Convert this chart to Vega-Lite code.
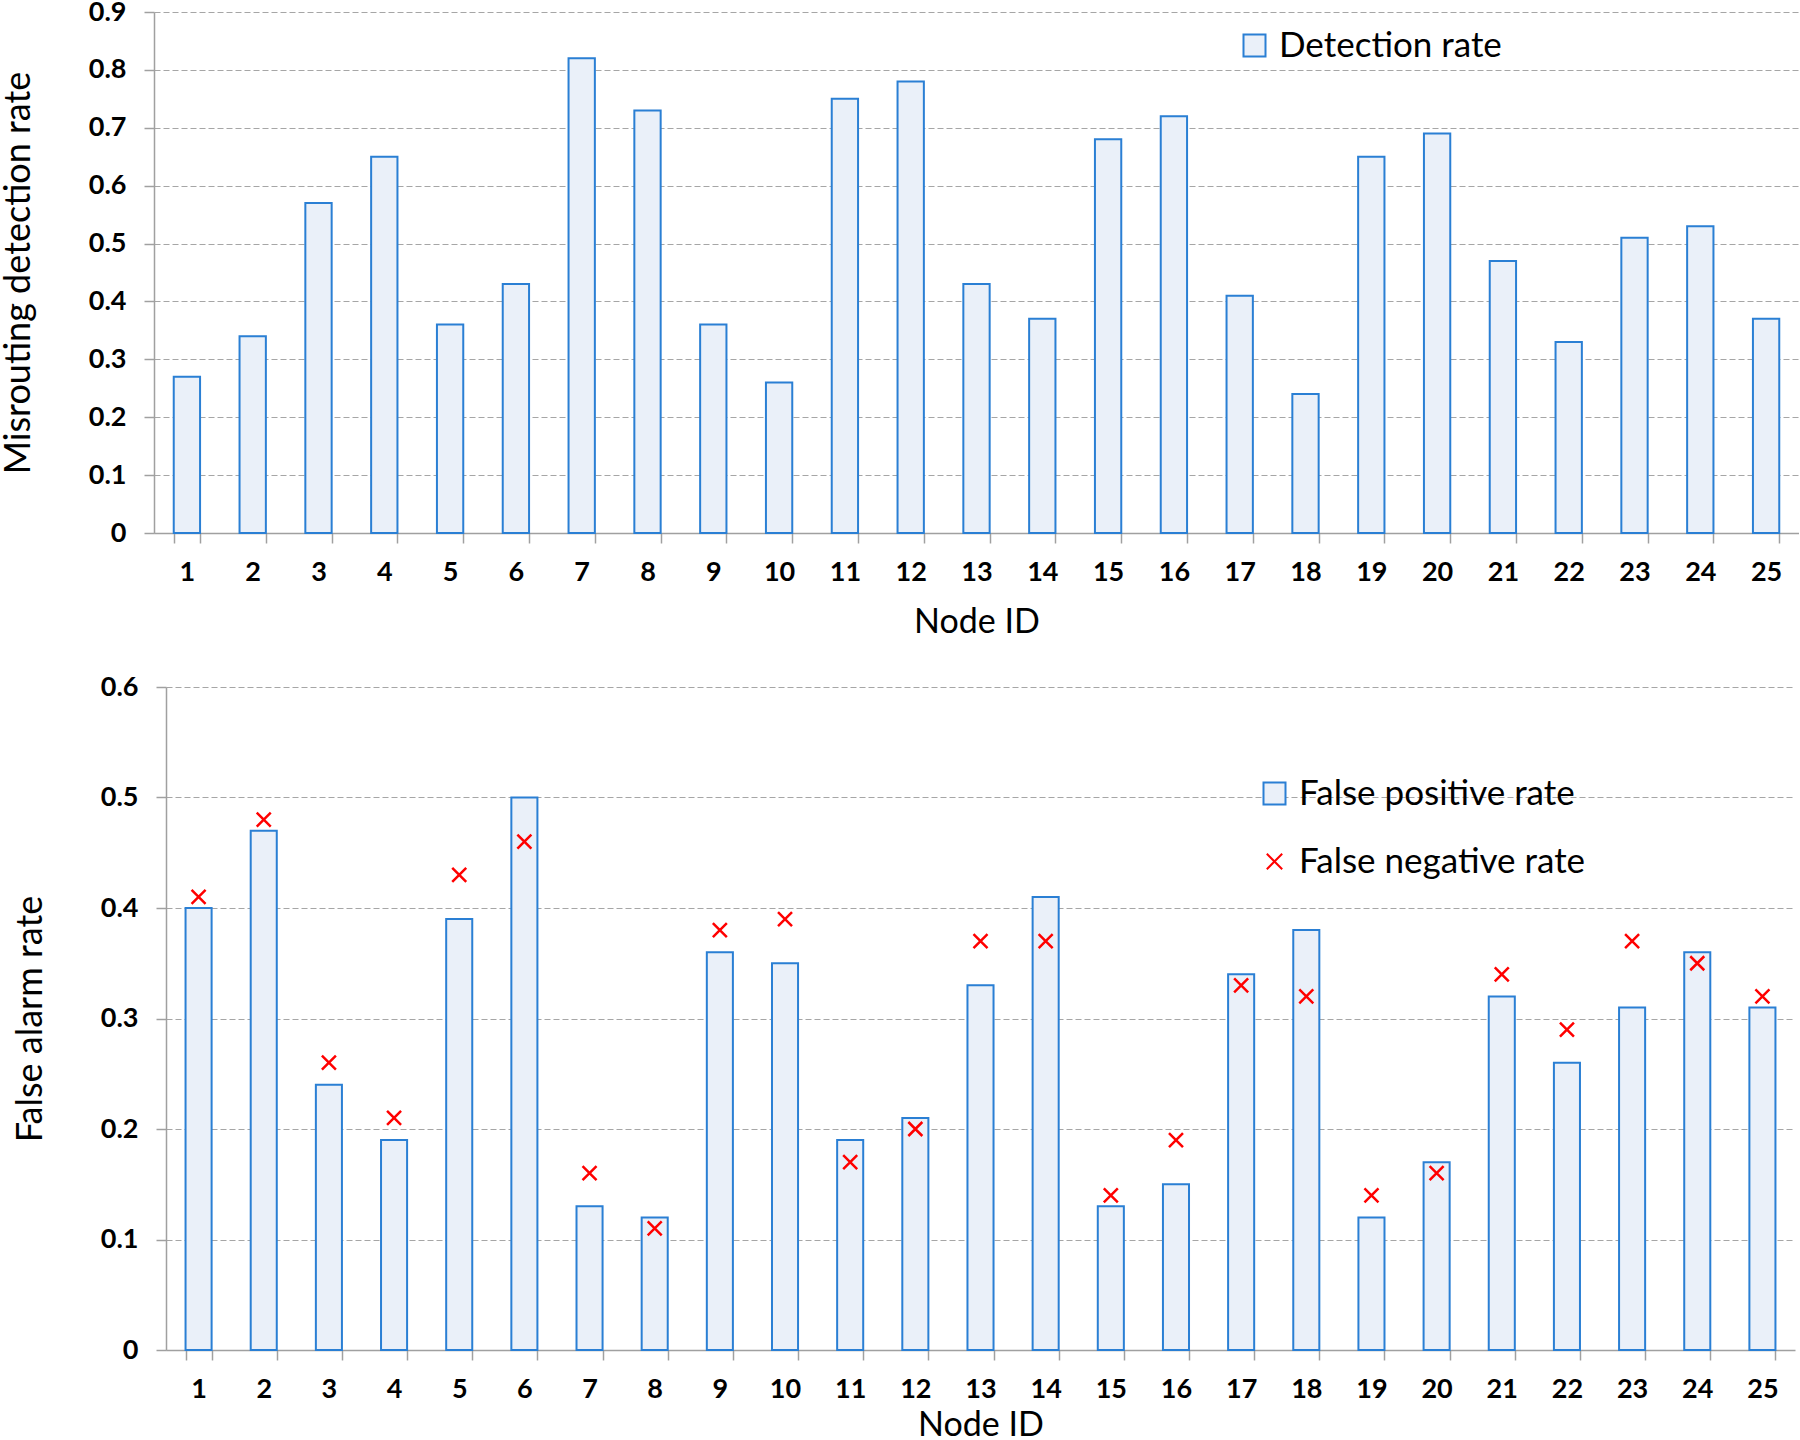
{
  "$schema": "https://vega.github.io/schema/vega-lite/v6.json",
  "padding": {"top": -2, "left": 0, "right": 0, "bottom": 0},
  "background": "white",
  "config": {
    "font": "Lato",
    "view": {"stroke": null},
    "axis": {
      "labelFont": "Lato", "titleFont": "Lato",
      "labelColor": "#000000", "titleColor": "#000000",
      "labelFontWeight": "bold", "titleFontWeight": "normal",
      "labelFontSize": 27,
      "domainColor": "#a0a0a0", "tickColor": "#a0a0a0",
      "domainWidth": 1.5, "tickWidth": 1.5, "tickSize": 10,
      "gridColor": "#a6a6a6", "gridDash": [6, 3], "gridWidth": 1.2
    },
    "legend": {
      "labelFont": "Lato", "labelFontSize": 35, "labelColor": "#000000",
      "labelFontWeight": "normal", "labelLimit": 600
    }
  },
  "resolve": {
    "scale": {"stroke": "independent", "shape": "independent"},
    "legend": {"stroke": "independent", "shape": "independent"}
  },
  "spacing": 34,
  "vconcat": [
    {
      "width": 1645,
      "height": 521,
      "data": {"values": [
        {"node": 1, "Detection rate": 0.27}, {"node": 2, "Detection rate": 0.34},
        {"node": 3, "Detection rate": 0.57}, {"node": 4, "Detection rate": 0.65},
        {"node": 5, "Detection rate": 0.36}, {"node": 6, "Detection rate": 0.43},
        {"node": 7, "Detection rate": 0.82}, {"node": 8, "Detection rate": 0.73},
        {"node": 9, "Detection rate": 0.36}, {"node": 10, "Detection rate": 0.26},
        {"node": 11, "Detection rate": 0.75}, {"node": 12, "Detection rate": 0.78},
        {"node": 13, "Detection rate": 0.43}, {"node": 14, "Detection rate": 0.37},
        {"node": 15, "Detection rate": 0.68}, {"node": 16, "Detection rate": 0.72},
        {"node": 17, "Detection rate": 0.41}, {"node": 18, "Detection rate": 0.24},
        {"node": 19, "Detection rate": 0.65}, {"node": 20, "Detection rate": 0.69},
        {"node": 21, "Detection rate": 0.47}, {"node": 22, "Detection rate": 0.33},
        {"node": 23, "Detection rate": 0.51}, {"node": 24, "Detection rate": 0.53},
        {"node": 25, "Detection rate": 0.37}
      ]},
      "transform": [{"fold": ["Detection rate"], "as": ["series", "value"]}],
      "mark": {"type": "bar", "fill": "#eaf0f9", "strokeWidth": 2},
      "encoding": {
        "x": {
          "field": "node", "type": "ordinal",
          "scale": {"paddingInner": 0.6, "paddingOuter": 0.3},
          "axis": {"title": "Node ID", "titleFontSize": 34, "labelAngle": 0, "tickBand": "extent", "labelPadding": 16, "titlePadding": 20}
        },
        "y": {
          "field": "value", "type": "quantitative",
          "scale": {"domain": [0, 0.9]},
          "axis": {
            "title": "Misrouting detection rate", "titleFontSize": 36,
            "values": [0, 0.1, 0.2, 0.3, 0.4, 0.5, 0.6, 0.7, 0.8, 0.9],
            "format": ".1~f", "grid": true, "labelPadding": 18, "titlePadding": 51
          }
        },
        "stroke": {
          "field": "series", "type": "nominal",
          "scale": {"domain": ["Detection rate"], "range": ["#2a7fd4"]},
          "legend": {
            "title": null, "orient": "none", "legendX": 1083, "legendY": 16,
            "symbolType": "square", "symbolSize": 484, "symbolStrokeWidth": 2,
            "symbolFillColor": "#eaf0f9", "labelOffset": 7
          }
        }
      }
    },
    {
      "width": 1641,
      "height": 663,
      "data": {"values": [
        {"node": 1, "False positive rate": 0.40, "False negative rate": 0.41},
        {"node": 2, "False positive rate": 0.47, "False negative rate": 0.48},
        {"node": 3, "False positive rate": 0.24, "False negative rate": 0.26},
        {"node": 4, "False positive rate": 0.19, "False negative rate": 0.21},
        {"node": 5, "False positive rate": 0.39, "False negative rate": 0.43},
        {"node": 6, "False positive rate": 0.50, "False negative rate": 0.46},
        {"node": 7, "False positive rate": 0.13, "False negative rate": 0.16},
        {"node": 8, "False positive rate": 0.12, "False negative rate": 0.11},
        {"node": 9, "False positive rate": 0.36, "False negative rate": 0.38},
        {"node": 10, "False positive rate": 0.35, "False negative rate": 0.39},
        {"node": 11, "False positive rate": 0.19, "False negative rate": 0.17},
        {"node": 12, "False positive rate": 0.21, "False negative rate": 0.20},
        {"node": 13, "False positive rate": 0.33, "False negative rate": 0.37},
        {"node": 14, "False positive rate": 0.41, "False negative rate": 0.37},
        {"node": 15, "False positive rate": 0.13, "False negative rate": 0.14},
        {"node": 16, "False positive rate": 0.15, "False negative rate": 0.19},
        {"node": 17, "False positive rate": 0.34, "False negative rate": 0.33},
        {"node": 18, "False positive rate": 0.38, "False negative rate": 0.32},
        {"node": 19, "False positive rate": 0.12, "False negative rate": 0.14},
        {"node": 20, "False positive rate": 0.17, "False negative rate": 0.16},
        {"node": 21, "False positive rate": 0.32, "False negative rate": 0.34},
        {"node": 22, "False positive rate": 0.26, "False negative rate": 0.29},
        {"node": 23, "False positive rate": 0.31, "False negative rate": 0.37},
        {"node": 24, "False positive rate": 0.36, "False negative rate": 0.35},
        {"node": 25, "False positive rate": 0.31, "False negative rate": 0.32}
      ]},
      "transform": [{"fold": ["False positive rate", "False negative rate"], "as": ["series", "value"]}],
      "encoding": {
        "x": {
          "field": "node", "type": "ordinal",
          "scale": {"paddingInner": 0.6, "paddingOuter": 0.3, "range": [12, 1641]},
          "axis": {"title": "Node ID", "titleFontSize": 34, "labelAngle": 0, "tickBand": "extent", "labelPadding": 16, "titlePadding": 6}
        },
        "y": {
          "field": "value", "type": "quantitative",
          "scale": {"domain": [0, 0.6]},
          "axis": {
            "title": "False alarm rate", "titleFontSize": 36, "offset": -12,
            "values": [0, 0.1, 0.2, 0.3, 0.4, 0.5, 0.6],
            "format": ".1~f", "grid": true, "labelPadding": 18, "titlePadding": 51
          }
        },
        "stroke": {
          "field": "series", "type": "nominal",
          "scale": {"domain": ["False positive rate", "False negative rate"], "range": ["#2a7fd4", "#ff0000"]},
          "legend": {
            "title": null, "orient": "none", "legendX": 1103, "legendY": 89,
            "symbolSize": 484, "symbolStrokeWidth": 2, "labelOffset": 7, "rowPadding": 32,
            "encode": {"symbols": {"update": {
              "fill": {"signal": "datum.value === 'False positive rate' ? '#eaf0f9' : 'transparent'"},
              "strokeWidth": {"signal": "datum.value === 'False positive rate' ? 2 : 2.5"}
            }}}
          }
        }
      },
      "layer": [
        {
          "transform": [{"filter": "datum.series === 'False positive rate'"}],
          "mark": {"type": "bar", "fill": "#eaf0f9", "strokeWidth": 2}
        },
        {
          "transform": [{"filter": "datum.series === 'False negative rate'"}],
          "mark": {"type": "point", "filled": false, "strokeWidth": 2.5, "size": 400, "opacity": 1},
          "encoding": {
            "shape": {
              "field": "series", "type": "nominal",
              "scale": {"domain": ["False positive rate", "False negative rate"], "range": ["square", "M-0.7,-0.7L0.7,0.7M-0.7,0.7L0.7,-0.7"]},
              "legend": {
                "title": null, "orient": "none", "legendX": 1103, "legendY": 89,
                "symbolSize": 484, "symbolStrokeWidth": 2, "labelOffset": 7, "rowPadding": 32,
                "encode": {"symbols": {"update": {
                  "fill": {"signal": "datum.value === 'False positive rate' ? '#eaf0f9' : 'transparent'"},
                  "strokeWidth": {"signal": "datum.value === 'False positive rate' ? 2 : 2.5"}
                }}}
              }
            }
          }
        }
      ]
    }
  ]
}
